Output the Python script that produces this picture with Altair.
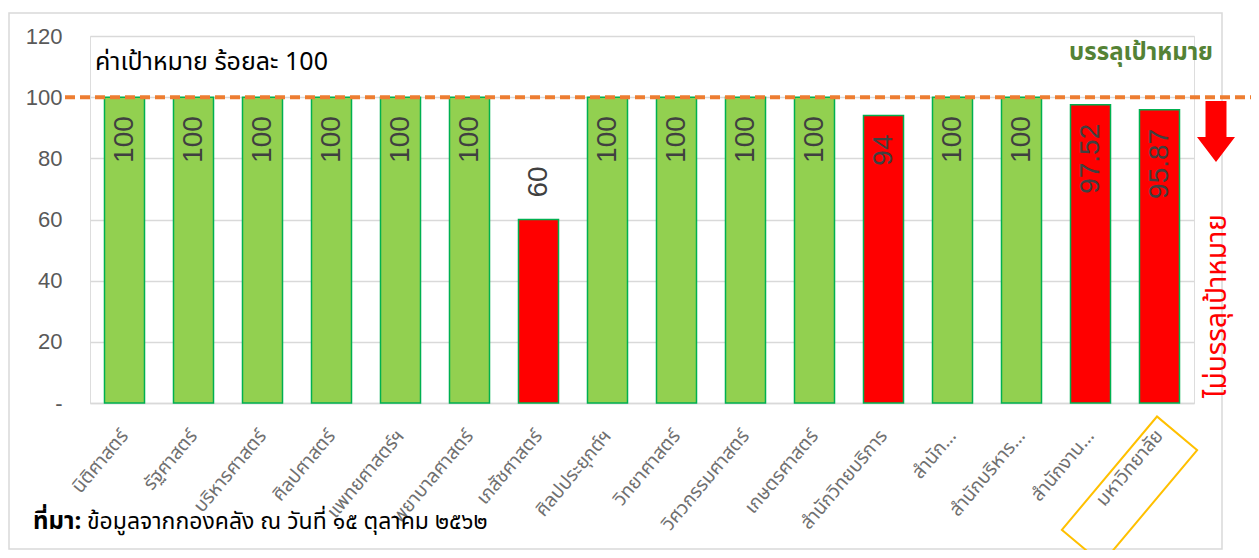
import altair as alt
import pandas as pd

categories = [
    "นิติศาสตร์", "รัฐศาสตร์", "บริหารศาสตร์", "ศิลปศาสตร์", "แพทยศาสตร์ฯ",
    "พยาบาลศาสตร์", "เภสัชศาสตร์", "ศิลปประยุกต์ฯ", "วิทยาศาสตร์", "วิศวกรรมศาสตร์",
    "เกษตรศาสตร์", "สำนักวิทยบริการ", "สำนัก...", "สำนักบริหาร...", "สำนักงาน...",
    "มหาวิทยาลัย",
]
values = [100, 100, 100, 100, 100, 100, 60, 100, 100, 100, 100, 94, 100, 100, 97.52, 95.87]
target = 100
y_ticks = [0, 20, 40, 60, 80, 100, 120]

title_text = "ค่าเป้าหมาย ร้อยละ 100"
met_text = "บรรลุเป้าหมาย"
missed_text = "ไม่บรรลุเป้าหมาย"
source_bold = "ที่มา:"
source_text = "ข้อมูลจากกองคลัง ณ วันที่ ๑๕ ตุลาคม ๒๕๖๒"
highlight = "มหาวิทยาลัย"

THAI = "'Noto Sans Thai', 'Noto Sans Thai UI', Loma, Garuda, 'Tlwg Typo', 'Noto Sans', sans-serif"
NUM = "'Liberation Sans', Arial, sans-serif"

W, H = 1104, 367

df = pd.DataFrame({"category": categories, "value": values})
df["status"] = ["met" if v >= target else "missed" for v in values]

x_enc = alt.X(
    "category:N", sort=categories, title=None,
    scale=alt.Scale(paddingInner=0.42, paddingOuter=0.21),
    axis=alt.Axis(labelAngle=310, labelAlign="right", labelBaseline="middle",
                  labelFontSize=19, labelColor="#707070", labelPadding=29,
                  ticks=False, domainColor="#D9D9D9", domainWidth=1.5,
                  labelFont=THAI, labelLimit=300, grid=False),
)
y_enc = alt.Y(
    "value:Q", title=None, scale=alt.Scale(domain=[0, 120]),
    axis=alt.Axis(values=y_ticks,
                  labelExpr="datum.value == 0 ? '-\u00a0' : datum.label",
                  labelFontSize=22, labelColor="#595959", labelPadding=28,
                  ticks=False, domain=False, gridColor="#D9D9D9", gridWidth=1.5,
                  labelFont=NUM),
)

base = alt.Chart(df)

frame = alt.Chart(pd.DataFrame({"k": [0]})).mark_rect(
    fillOpacity=0, stroke="#D9D9D9", strokeWidth=1.5
).encode(x=alt.value(-81), x2=alt.value(1132), y=alt.value(-23), y2=alt.value(513))

bars = base.mark_bar(stroke="#00B050", strokeWidth=1.5).encode(
    x=x_enc, y=y_enc,
    color=alt.Color("status:N", scale=alt.Scale(domain=["met", "missed"], range=["#92D050", "#FF0000"]), legend=None),
)

inside = base.transform_filter("datum.value >= 70").mark_text(
    angle=270, align="right", baseline="middle", dx=-19, fontSize=28, color="#404040", font=NUM
).encode(x=alt.X("category:N", sort=categories), y="value:Q", text=alt.Text("value:Q", format="~g"))

outside = base.transform_filter("datum.value < 70").mark_text(
    angle=270, align="left", baseline="middle", dx=22, fontSize=28, color="#404040", font=NUM
).encode(x=alt.X("category:N", sort=categories), y="value:Q", text=alt.Text("value:Q", format="~g"))

rule = alt.Chart(pd.DataFrame({"value": [target]})).mark_rule(
    color="#ED7D31", strokeWidth=4, strokeDash=[10, 5]
).encode(y="value:Q", x=alt.value(-25), x2=alt.value(W + 120))

title_mark = alt.Chart(pd.DataFrame({"t": [title_text]})).mark_text(
    align="left", baseline="middle", fontSize=25, color="#000000", font=THAI
).encode(x=alt.value(5), y=alt.value(26), text="t:N")

met_mark = alt.Chart(pd.DataFrame({"t": [met_text]})).mark_text(
    align="right", baseline="middle", fontSize=24, color="#548235", font=THAI, fontWeight="bold"
).encode(x=alt.value(1123), y=alt.value(17), text="t:N")

missed_mark = alt.Chart(pd.DataFrame({"t": [missed_text]})).mark_text(
    align="center", baseline="middle", fontSize=28, color="#FF0000", font=THAI, angle=270
).encode(x=alt.value(1128), y=alt.value(270), text="t:N")

arrow_path = "M-0.344,-1L0.344,-1L0.344,0.18L0.623,0.18L0,1L-0.623,0.18L-0.344,0.18Z"
arrow = alt.Chart(pd.DataFrame({"k": [0]})).mark_point(
    shape=arrow_path, size=3721, filled=True, color="#FF0000", opacity=1, strokeWidth=0
).encode(x=alt.value(1126), y=alt.value(95.5))

src_bold = alt.Chart(pd.DataFrame({"t": [source_bold]})).mark_text(
    align="left", baseline="middle", fontSize=24, color="#000000", font=THAI, fontWeight="bold"
).encode(x=alt.value(-57), y=alt.value(486), text="t:N")

src = alt.Chart(pd.DataFrame({"t": [source_text]})).mark_text(
    align="left", baseline="middle", fontSize=23, color="#000000", font=THAI
).encode(x=alt.value(-3), y=alt.value(486), text="t:N")

box_path = "M-1,-0.354L1,-0.354L1,0.354L-1,0.354Z"
box = base.transform_filter(alt.datum.category == highlight).mark_point(
    shape=box_path, size=148 * 148, angle=310, filled=False, color="#FFC000",
    strokeWidth=2, opacity=1, xOffset=-30
).encode(x=alt.X("category:N", sort=categories), y=alt.value(454))

chart = alt.layer(
    frame, bars, inside, outside, rule, title_mark, met_mark, missed_mark, arrow, src_bold, src, box
).properties(
    width=W, height=H,
    autosize=alt.AutoSizeParams(type="none"),
    padding={"left": 82, "top": 28, "right": 57, "bottom": 147},
).configure_view(stroke=None).configure(background="#FFFFFF")

chart.save("out.html", embed_options={"renderer": "svg", "actions": False})
